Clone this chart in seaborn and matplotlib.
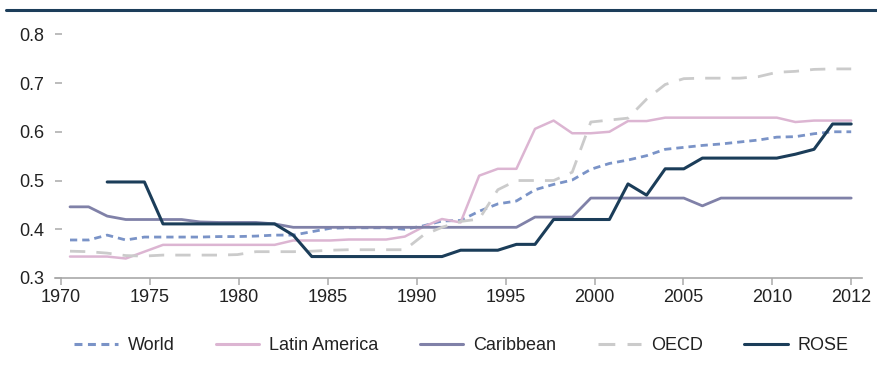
import numpy as np
import pandas as pd
import matplotlib
matplotlib.use("Agg")
import matplotlib.pyplot as plt
from matplotlib.lines import Line2D
import seaborn as sns

years = list(range(1970, 2013))

world = [0.378, 0.378, 0.388, 0.378, 0.384, 0.384, 0.384, 0.384, 0.385, 0.385,
         0.386, 0.388, 0.388, 0.395, 0.402, 0.403, 0.403, 0.403, 0.400, 0.407,
         0.417, 0.418, 0.437, 0.452, 0.458, 0.481, 0.492, 0.501, 0.523, 0.535,
         0.542, 0.551, 0.564, 0.568, 0.572, 0.575, 0.579, 0.583, 0.589, 0.590,
         0.596, 0.600, 0.600]
latin_america = [0.344, 0.344, 0.344, 0.340, 0.354, 0.368, 0.368, 0.368, 0.368, 0.368,
                 0.368, 0.368, 0.377, 0.377, 0.377, 0.379, 0.379, 0.379, 0.385, 0.405,
                 0.421, 0.414, 0.510, 0.524, 0.524, 0.606, 0.623, 0.597, 0.597, 0.600,
                 0.622, 0.622, 0.629, 0.629, 0.629, 0.629, 0.629, 0.629, 0.629, 0.620,
                 0.623, 0.623, 0.623]
caribbean = [0.446, 0.446, 0.427, 0.420, 0.420, 0.420, 0.420, 0.415, 0.414, 0.414,
             0.414, 0.411, 0.404, 0.404, 0.404, 0.404, 0.404, 0.404, 0.404, 0.404,
             0.404, 0.404, 0.404, 0.404, 0.404, 0.425, 0.425, 0.425, 0.464, 0.464,
             0.464, 0.464, 0.464, 0.464, 0.448, 0.464, 0.464, 0.464, 0.464, 0.464,
             0.464, 0.464, 0.464]
oecd = [0.355, 0.354, 0.351, 0.346, 0.345, 0.347, 0.347, 0.347, 0.347, 0.348,
        0.354, 0.354, 0.354, 0.355, 0.357, 0.358, 0.358, 0.358, 0.358, 0.388,
        0.404, 0.416, 0.421, 0.481, 0.500, 0.500, 0.500, 0.517, 0.620, 0.624,
        0.628, 0.667, 0.697, 0.709, 0.710, 0.710, 0.710, 0.713, 0.722, 0.724,
        0.728, 0.729, 0.729]
rose = [np.nan, np.nan, 0.497, 0.497, 0.497, 0.411, 0.411, 0.411, 0.411, 0.411,
        0.411, 0.411, 0.388, 0.344, 0.344, 0.344, 0.344, 0.344, 0.344, 0.344,
        0.344, 0.357, 0.357, 0.357, 0.369, 0.369, 0.420, 0.420, 0.420, 0.420,
        0.493, 0.470, 0.524, 0.524, 0.546, 0.546, 0.546, 0.546, 0.546, 0.554,
        0.564, 0.616, 0.616]

series_names = ["World", "Latin America", "Caribbean", "OECD", "ROSE"]
series_values = [world, latin_america, caribbean, oecd, rose]

x_tick_labels = ["1970", "1975", "1980", "1985", "1990", "1995", "2000", "2005", "2010", "2012"]
y_ticks = [0.3, 0.4, 0.5, 0.6, 0.7, 0.8]

df = pd.concat(
    [pd.DataFrame({"year": years, "value": v, "series": n})
     for n, v in zip(series_names, series_values)],
    ignore_index=True,
)

colors = {
    "World": "#7a93c7",
    "Latin America": "#dcb5d2",
    "Caribbean": "#8081a8",
    "OECD": "#cbcbcb",
    "ROSE": "#1b3d59",
}
dashes = {
    "World": (2.6, 1.8),
    "Latin America": "",
    "Caribbean": "",
    "OECD": (5.5, 4.0),
    "ROSE": "",
}

sns.set_theme(style="white")
plt.rcParams["font.family"] = ["Liberation Sans Narrow", "Liberation Sans", "DejaVu Sans"]
FS = 13

fig = plt.figure(figsize=(8.78, 3.69), dpi=100)
ax = fig.add_axes([55 / 878, (369 - 278) / 369, (862 - 55) / 878, (278 - 34.3) / 369])

sns.lineplot(
    data=df, x="year", y="value", hue="series", style="series",
    hue_order=series_names, style_order=series_names,
    palette=colors, dashes=dashes, estimator=None, linewidth=2.0, ax=ax,
)

for ln, name in zip(ax.get_lines()[:5], series_names):
    if name == "Latin America":
        ln.set_linewidth(1.8)
    elif name == "ROSE":
        ln.set_linewidth(2.2)

ax.set_xlim(1970 + (55 - 70) / 18.6, 1970 + (862 - 70) / 18.6)
ax.set_ylim(0.3, 0.8)

tick_pos = list(1969.52 + 4.78 * np.arange(9)) + [2012]
ax.set_xticks(tick_pos)
ax.set_xticklabels(x_tick_labels)
ax.set_yticks(y_ticks)
ax.set_yticklabels([f"{t:.1f}" for t in y_ticks])

for s in ["top", "right", "left"]:
    ax.spines[s].set_visible(False)
ax.spines["bottom"].set_color("#a9a9a9")
ax.spines["bottom"].set_linewidth(1.2)

ax.tick_params(axis="x", direction="out", length=5, width=1.1, color="#a9a9a9",
               labelsize=FS, labelcolor="#222222", pad=3, bottom=True)
ax.tick_params(axis="y", direction="in", length=5, width=1.1, color="#a9a9a9",
               labelsize=FS, labelcolor="#222222", pad=8, left=True)
ax.set_xlabel("")
ax.set_ylabel("")
ax.grid(False)

sns.move_legend(
    ax, "center", bbox_to_anchor=((461.5 - 55) / 807, (278 - 346) / 243.7),
    ncol=5, frameon=False, title=None, fontsize=FS,
    handlelength=2.4, handletextpad=0.55, columnspacing=2.3,
)
leg = ax.get_legend()
for t in leg.get_texts():
    t.set_color("#222222")
for h in leg.legend_handles:
    h.set_linewidth(2.2)

fig.add_artist(Line2D([6 / 878, 1.0], [1 - 9.5 / 369, 1 - 9.5 / 369],
                      transform=fig.transFigure, color="#1c3d5a", linewidth=2.2))

fig.savefig("out.png", dpi=100)
